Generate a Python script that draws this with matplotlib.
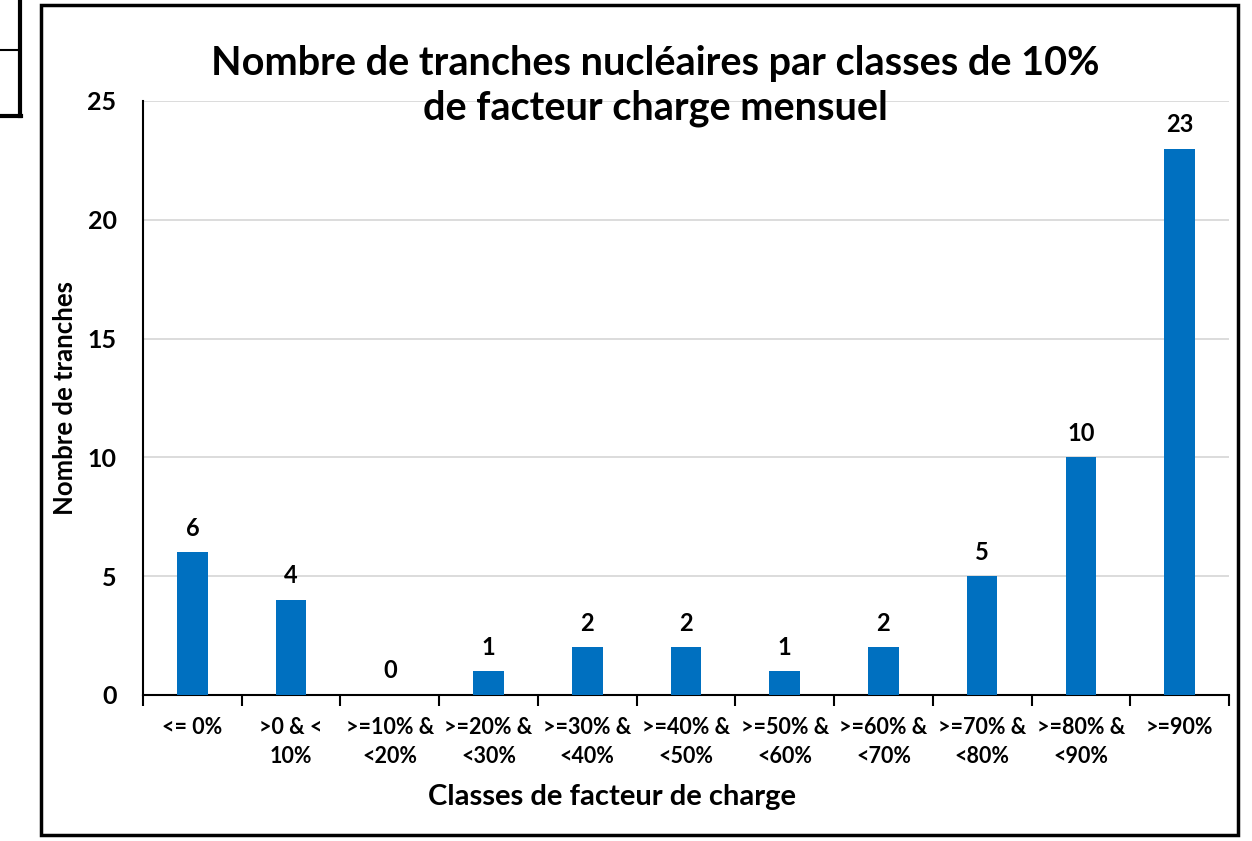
import matplotlib.pyplot as plt
from matplotlib.patches import Rectangle
from matplotlib.lines import Line2D

plt.rcParams['font.family'] = ['Lato', 'DejaVu Sans']

# classes de facteur de charge et nombre de tranches
classes = ['<= 0%', '>0 & <\n10%', '>=10% &\n<20%', '>=20% &\n<30%', '>=30% &\n<40%',
           '>=40% &\n<50%', '>=50% &\n<60%', '>=60% &\n<70%', '>=70% &\n<80%',
           '>=80% &\n<90%', '>=90%']
nb_tranches = [6, 4, 0, 1, 2, 2, 1, 2, 5, 10, 23]
yticks = [0, 5, 10, 15, 20, 25]

fig = plt.figure(figsize=(12.52, 8.41), dpi=100)
ax = fig.add_axes([143/1252, 1-695/841, (1229-143)/1252, (695-101)/841])

x = list(range(len(classes)))
ax.bar(x, nb_tranches, width=0.31, color='#0070C0', zorder=3)
for xi, v in zip(x, nb_tranches):
    t = ax.annotate(str(v), (xi, v), xytext=(0, 9), textcoords='offset points',
                    ha='center', va='bottom', fontsize=17, fontweight='bold', zorder=4)
    if v == max(nb_tranches):
        t.set_bbox(dict(facecolor='white', edgecolor='none', pad=7))

ax.set_xlim(-0.5, len(classes) - 0.5)
ax.set_ylim(0, 25)
ax.set_yticks(yticks)
ax.set_yticklabels([str(t) for t in yticks], fontsize=18, fontweight='bold')
ax.tick_params(axis='y', length=0, pad=19)
ax.set_xticks([i - 0.5 for i in range(len(classes) + 1)])
ax.set_xticklabels([])
ax.set_xticks(x, minor=True)
ax.set_xticklabels(classes, minor=True, fontsize=15.5, fontweight='bold', linespacing=1.45)
ax.tick_params(axis='x', which='major', length=8, width=1.5, direction='out', color='black')
ax.tick_params(axis='x', which='minor', length=0, pad=16)

ax.yaxis.grid(True, color='#d9d9d9', lw=1.3, zorder=0)
for s in ['top', 'right']:
    ax.spines[s].set_visible(False)
ax.spines['left'].set_linewidth(1.5)
ax.spines['bottom'].set_linewidth(1.5)

fig.text(65/1252, 1-398/841, 'Nombre de tranches', rotation=90, ha='center', va='center',
         fontsize=18.5, fontweight='bold')
fig.text(612/1252, 1-797/841, 'Classes de facteur de charge', ha='center', va='center',
         fontsize=21, fontweight='bold')

fig.text(655/1252, 1-86/841, 'Nombre de tranches nucléaires par classes de 10%\nde facteur charge mensuel',
         ha='center', va='center', fontsize=28.5, fontweight='bold', linespacing=1.25)

# cadre du graphique
fig.patches.append(Rectangle((41/1252, 1-835/841), (1238-41)/1252, (835-5)/841,
                             transform=fig.transFigure, fill=False, edgecolor='black', lw=2.5))
# morceau du cadre voisin en haut a gauche
fig.lines.append(Line2D([20/1252, 20/1252], [1, 1-116/841], transform=fig.transFigure, color='black', lw=3))
fig.lines.append(Line2D([0, 21/1252], [1-116/841, 1-116/841], transform=fig.transFigure, color='black', lw=3))
fig.lines.append(Line2D([0, 20/1252], [1-50/841, 1-50/841], transform=fig.transFigure, color='black', lw=1.5))

fig.savefig('out.png', dpi=100, facecolor='white')
